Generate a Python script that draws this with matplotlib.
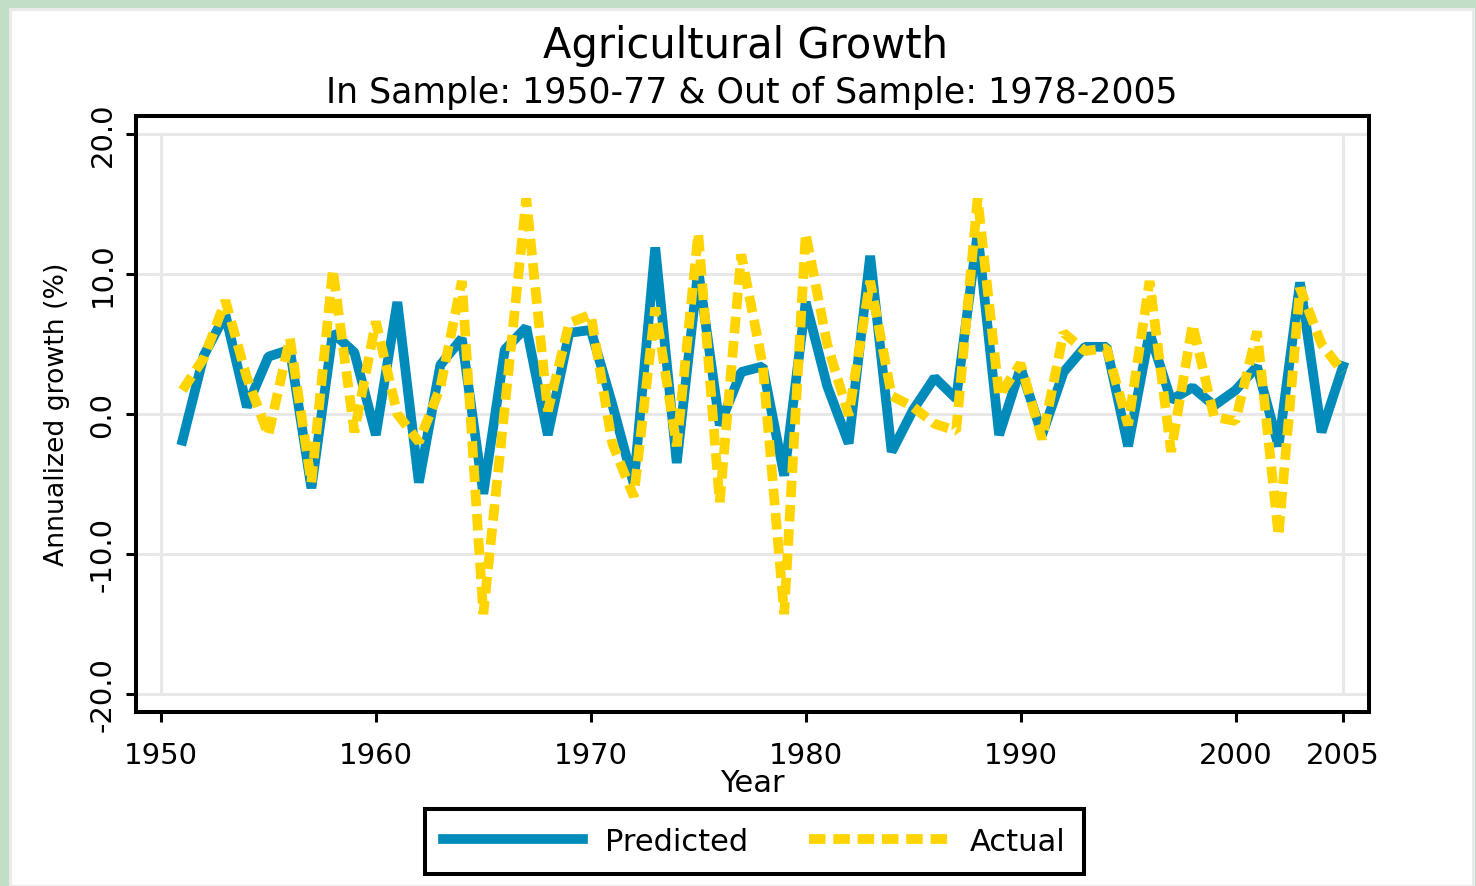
import matplotlib
matplotlib.use("Agg")
import matplotlib.pyplot as plt
from matplotlib.patches import Rectangle

plt.rcParams['font.family'] = ['DejaVu Sans']

years = list(range(1951, 2006))
predicted = [-1.9, 4.2, 7.1, 0.5, 4.1, 4.6, -5.3, 5.8, 4.4, -1.5,
             8.0, -4.9, 3.5, 5.4, -5.7, 4.6, 6.2, -1.5, 5.8, 6.0,
             0.7, -5.0, 11.9, -3.5, 10.3, -0.8, 3.0, 3.4, -4.4, 8.0,
             2.0, -2.1, 11.3, -2.7, 0.3, 2.6, 1.1, 12.9, -1.5, 3.3,
             -1.5, 3.0, 4.8, 4.8, -2.3, 5.8, 1.0, 1.9, 0.6, 1.7,
             3.4, -2.3, 9.4, -1.3, 3.4]
actual = [1.7, 4.0, 8.1, 2.6, -1.5, 5.4, -4.9, 10.3, -1.3, 6.6,
          0.0, -2.0, 1.9, 9.5, -14.3, 0.5, 15.4, 0.2, 6.5, 7.1,
          -2.1, -5.9, 7.6, -2.3, 12.9, -6.3, 11.4, 3.5, -14.3, 12.9,
          5.0, -0.1, 9.5, 1.3, 0.5, -0.7, -1.2, 15.4, 1.3, 3.6,
          -1.8, 5.8, 4.5, 4.7, -0.8, 9.5, -2.7, 6.4, -0.2, -0.5,
          5.9, -8.7, 9.0, 5.0, 3.0]
xticks = [1950, 1960, 1970, 1980, 1990, 2000, 2005]
yticks = [-20, -10, 0, 10, 20]
ytick_labels = ["-20.0", "-10.0", "0.0", "10.0", "20.0"]

W, H = 1476, 887
fig = plt.figure(figsize=(W / 100, H / 100), dpi=100)
fig.patch.set_facecolor('#c1dec6')
# inner white panel
fig.patches.append(Rectangle((9.5 / W, 0), (1473 - 9.5) / W, (H - 9.5) / H,
                             transform=fig.transFigure, facecolor='white',
                             edgecolor='#ebebeb', linewidth=2.2, zorder=-5))

ax = fig.add_axes([136 / W, 1 - 713 / H, (1369 - 136) / W, (713 - 117) / H])
ax.set_zorder(2)
ax.set_xlim(1948.84, 2006.21)
ax.set_ylim(-21.29, 21.29)

for yv in yticks:
    ax.axhline(yv, color='#e8e8e8', lw=2.2, zorder=1)
for xv in [1950, 2005]:
    ax.plot([xv, xv], [-20, 20], color='#e8e8e8', lw=2.2, zorder=1)

blue = '#008bbb'
yellow = '#ffd400'
l1, = ax.plot(years, predicted, color=blue, lw=7, solid_joinstyle='bevel',
              zorder=3, label='Predicted')
l2, = ax.plot(years, actual, color=yellow, lw=7, dashes=(1.7, 0.8),
              dash_capstyle='butt', dash_joinstyle='bevel', zorder=4,
              label='Actual')

for s in ax.spines.values():
    s.set_linewidth(2.9)
    s.set_color('black')

ax.set_xticks(xticks)
ax.set_xticklabels([str(v) for v in xticks])
ax.set_yticks(yticks)
ax.set_yticklabels(ytick_labels, rotation=90, va='center')
ax.tick_params(axis='both', direction='out', length=7, width=2.2,
               labelsize=21, colors='black')
ax.tick_params(axis='x', pad=14)
ax.tick_params(axis='y', pad=7)

fig.text(745 / W, 1 - 46 / H, 'Agricultural Growth', ha='center', va='center',
         fontsize=30)
fig.text(752 / W, 1 - 93 / H, 'In Sample: 1950-77 & Out of Sample: 1978-2005',
         ha='center', va='center', fontsize=25)
fig.text(57 / W, 1 - 414 / H, 'Annualized growth (%)', rotation=90,
         ha='center', va='center', fontsize=19.3)
fig.text(752 / W, 1 - 784 / H, 'Year', ha='center', va='center', fontsize=22)

leg = fig.legend(handles=[l1, l2], labels=['Predicted', 'Actual'], ncol=2,
                 loc='center', bbox_to_anchor=(754.5 / W, 1 - 842.5 / H),
                 fontsize=22, frameon=True, fancybox=False, framealpha=1,
                 handlelength=4.55, handletextpad=0.72, columnspacing=2.0,
                 borderpad=0.6, borderaxespad=0)
leg.get_frame().set_edgecolor('black')
leg.get_frame().set_linewidth(2.9)

fig.savefig('out.png', dpi=100, facecolor=fig.get_facecolor())
